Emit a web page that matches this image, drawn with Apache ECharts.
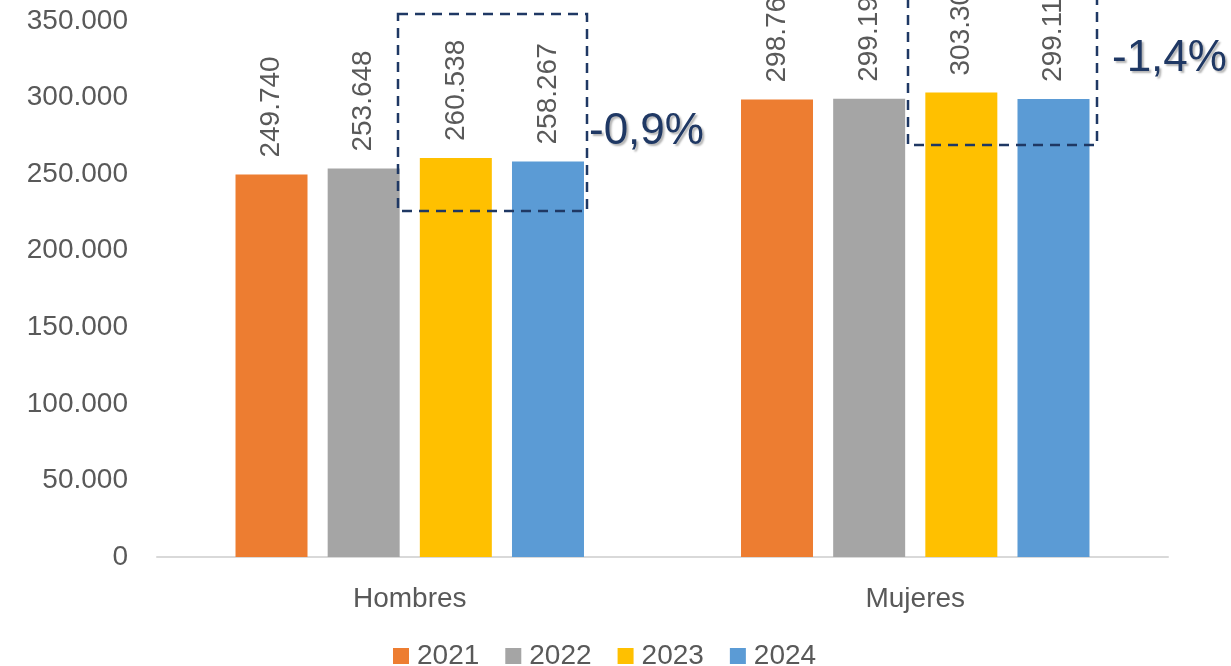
<!DOCTYPE html>
<html>
<head>
<meta charset="utf-8">
<script src="https://cdn.jsdelivr.net/npm/echarts@6/dist/echarts.min.js"></script>
<style>
  html, body { margin: 0; padding: 0; background: #fff; }
  #chart { width: 1231px; height: 666px; }
</style>
</head>
<body>
<div id="chart"></div>
<script>
var categories = ['Hombres', 'Mujeres'];
var years = ['2021', '2022', '2023', '2024'];
var values2021 = [249740, 298765];
var values2022 = [253648, 299195];
var values2023 = [260538, 303303];
var values2024 = [258267, 299117];
var colors = ['#ED7D31', '#A5A5A5', '#FFC000', '#5B9BD5'];
var changeLabels = ['-0,9%', '-1,4%'];

function fmt(v) {
  return String(v).replace(/\B(?=(\d{3})+(?!\d))/g, '.');
}

var chart = echarts.init(document.getElementById('chart'));
var font = 'Liberation Sans, Arial, sans-serif';

function makeSeries(name, data, color) {
  return {
    name: name,
    type: 'bar',
    data: data,
    barWidth: 72,
    barGap: '28%',
    itemStyle: { color: color },
    label: {
      show: true,
      position: 'top',
      rotate: 90,
      align: 'left',
      verticalAlign: 'middle',
      distance: 17,
      color: '#595959',
      fontSize: 28,
      fontFamily: font,
      formatter: function (p) { return fmt(p.value); }
    }
  };
}

var annoStyle = {
  fill: '#1F3864', fontSize: 44, fontFamily: font,
  textShadowColor: 'rgba(0,0,0,0.3)', textShadowOffsetX: 2, textShadowOffsetY: 2, textShadowBlur: 2
};

var option = {
  animation: false,
  color: colors,
  grid: { left: 157, right: 63, top: 21, bottom: 109 },
  legend: {
    bottom: -9,
    left: 388,
    itemWidth: 16,
    itemHeight: 16,
    itemGap: 26,
    icon: 'rect',
    textStyle: { color: '#595959', fontSize: 28, fontFamily: font, padding: [0, 0, 0, 3] },
    data: years
  },
  xAxis: {
    type: 'category',
    data: categories,
    axisTick: { show: false },
    axisLine: { lineStyle: { color: '#D9D9D9', width: 2 } },
    axisLabel: { color: '#595959', fontSize: 28, fontFamily: font, margin: 28 }
  },
  yAxis: {
    type: 'value',
    min: 0,
    max: 350000,
    interval: 50000,
    splitLine: { show: false },
    axisLine: { show: false },
    axisTick: { show: false },
    axisLabel: {
      color: '#595959', fontSize: 28, fontFamily: font, margin: 29,
      formatter: function (v) { return fmt(v); }
    }
  },
  series: [
    makeSeries(years[0], values2021, colors[0]),
    makeSeries(years[1], values2022, colors[1]),
    makeSeries(years[2], values2023, colors[2]),
    makeSeries(years[3], values2024, colors[3])
  ],
  graphic: [
    {
      type: 'rect',
      z: 100,
      shape: { x: 398, y: 14, width: 189, height: 197 },
      style: { fill: 'none', stroke: '#1F3864', lineWidth: 2.5, lineDash: [10, 7] }
    },
    {
      type: 'rect',
      z: 100,
      shape: { x: 908, y: -20, width: 189, height: 165 },
      style: { fill: 'none', stroke: '#1F3864', lineWidth: 2.5, lineDash: [10, 7] }
    },
    {
      type: 'text',
      z: 100,
      left: 589,
      top: 110,
      style: Object.assign({ text: changeLabels[0] }, annoStyle)
    },
    {
      type: 'text',
      z: 100,
      left: 1112,
      top: 37,
      style: Object.assign({ text: changeLabels[1] }, annoStyle)
    }
  ]
};
chart.setOption(option);
</script>
</body>
</html>
